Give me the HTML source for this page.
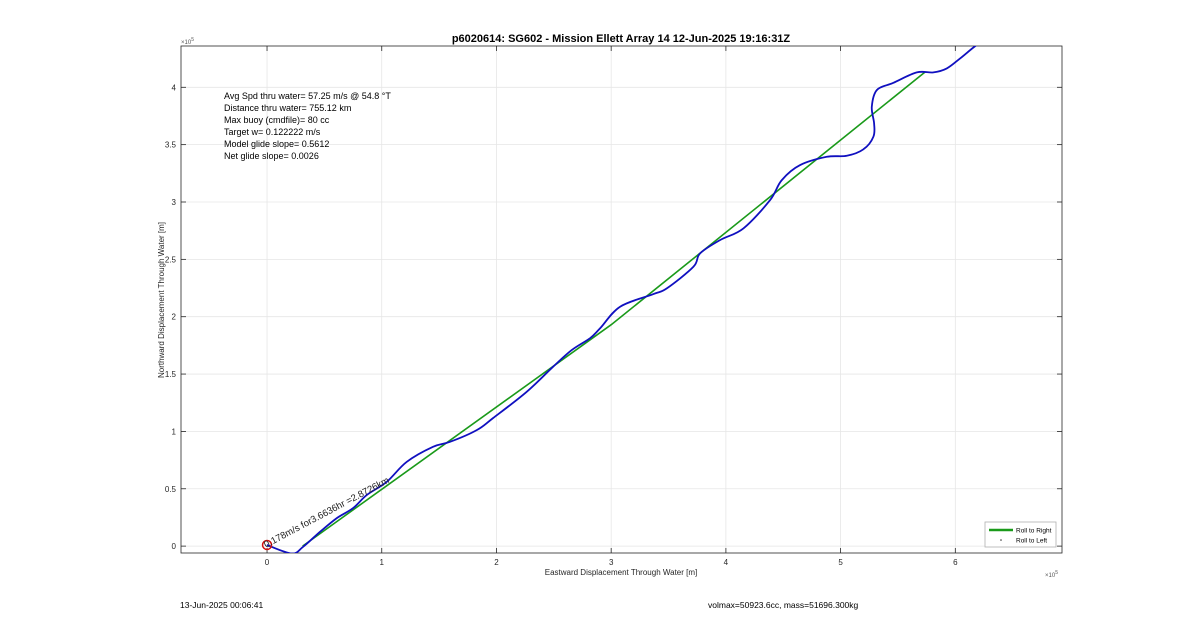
<!DOCTYPE html>
<html><head><meta charset="utf-8"><style>
body{margin:0;background:#fff;font-family:"Liberation Sans",sans-serif;}
svg text{font-family:"Liberation Sans",sans-serif;}
</style></head><body>
<svg id="chart" width="1200" height="622" viewBox="0 0 1200 622">
<rect width="1200" height="622" fill="#fff"/>
<g id="grid"></g>
<rect x="181" y="46" width="881" height="507" fill="none" stroke="#262626" stroke-width="0.8"/>
<g id="ticks"></g>
<clipPath id="clip"><rect x="181" y="46" width="881" height="507"/></clipPath>
<g id="series" clip-path="url(#clip)"></g>
<text x="621" y="42" text-anchor="middle" font-size="11" font-weight="bold" fill="#000">p6020614: SG602 - Mission Ellett Array 14 12-Jun-2025 19:16:31Z</text>
<text x="621" y="575" text-anchor="middle" font-size="8" fill="#262626">Eastward Displacement Through Water [m]</text>
<text x="164" y="300" text-anchor="middle" font-size="8" fill="#262626" transform="rotate(-90 164 300)">Northward Displacement Through Water [m]</text>
<text x="181" y="44" font-size="6" fill="#555">×10<tspan dy="-3" font-size="5">5</tspan></text>
<text x="1045" y="577" font-size="6" fill="#555">×10<tspan dy="-3" font-size="5">5</tspan></text>
<g font-size="9" fill="#000">
<text x="224" y="99">Avg Spd thru water= 57.25 m/s @  54.8 °T</text>
<text x="224" y="111">Distance thru water= 755.12 km</text>
<text x="224" y="123">Max buoy (cmdfile)= 80 cc</text>
<text x="224" y="135">Target w= 0.122222 m/s</text>
<text x="224" y="147">Model glide slope= 0.5612</text>
<text x="224" y="159">Net glide slope= 0.0026</text>
</g>
<g>
<rect x="985" y="522" width="71" height="25" fill="#fff" stroke="#b0b0b0" stroke-width="0.8"/>
<line x1="989" y1="530" x2="1013" y2="530" stroke="#1a9a1a" stroke-width="2.5"/>
<text x="1016" y="532.5" font-size="6.5" fill="#000">Roll to Right</text>
<circle cx="1001" cy="540" r="0.8" fill="#333"/>
<text x="1016" y="542.5" font-size="6.5" fill="#000">Roll to Left</text>
</g>
<text x="180" y="608" font-size="8.5" fill="#000">13-Jun-2025 00:06:41</text>
<text x="708" y="608" font-size="8.5" fill="#000">volmax=50923.6cc, mass=51696.300kg</text>
</svg>
<script>
const xTicks=[0,1,2,3,4,5,6];
const yTicks=[0,0.5,1,1.5,2,2.5,3,3.5,4];
const yTickLabels=["0","0.5","1","1.5","2","2.5","3","3.5","4"];
const trackX=[0,0.215,0.314,0.462,0.608,0.750,0.869,1.044,1.218,1.447,1.595,1.828,1.970,2.264,2.493,2.656,2.816,2.903,3.078,3.368,3.485,3.717,3.775,3.949,4.153,4.385,4.487,4.647,4.880,5.054,5.199,5.286,5.292,5.272,5.316,5.460,5.664,5.809,5.926,6.042,6.173,6.303];
const trackY=[0.01,-0.064,-0.006,0.125,0.244,0.331,0.445,0.561,0.735,0.866,0.909,1.011,1.116,1.345,1.563,1.709,1.813,1.898,2.087,2.197,2.247,2.435,2.552,2.668,2.770,3.017,3.191,3.322,3.394,3.403,3.459,3.569,3.685,3.830,3.976,4.039,4.130,4.130,4.165,4.252,4.359,4.447];
const fitX=[0.31,3.0,5.737];
const fitY=[0,1.93,4.133];
const xMin=-0.75,xMax=6.93,yMin=-0.06,yMax=4.36;
const L=181,R=1062,T=46,B=553;
const sx=v=>L+(v-xMin)/(xMax-xMin)*(R-L);
const sy=v=>B-(v-yMin)/(yMax-yMin)*(B-T);
const NS="http://www.w3.org/2000/svg";
function mk(tag,attrs,parent){const e=document.createElementNS(NS,tag);for(const k in attrs)e.setAttribute(k,attrs[k]);parent.appendChild(e);return e;}
const grid=document.getElementById('grid'),ticks=document.getElementById('ticks'),series=document.getElementById('series');
xTicks.forEach(v=>{const x=sx(v);
 const g=mk('line',{x1:x,x2:x,y1:T,y2:B,stroke:'#e6e6e6','stroke-width':0.8},grid);
 
 
 mk('line',{x1:x,x2:x,y1:B,y2:B-5,stroke:'#262626','stroke-width':0.8},ticks);
 mk('line',{x1:x,x2:x,y1:T,y2:T+5,stroke:'#262626','stroke-width':0.8},ticks);
 const t=mk('text',{x:x,y:B+12,'text-anchor':'middle','font-size':8,fill:'#262626'},ticks);t.textContent=String(v);
 
 
});
yTicks.forEach((v,i)=>{const y=sy(v);
 const g=mk('line',{x1:L,x2:R,y1:y,y2:y,stroke:'#e6e6e6','stroke-width':0.8},grid);
 
 
 mk('line',{x1:L,x2:L+5,y1:y,y2:y,stroke:'#262626','stroke-width':0.8},ticks);
 mk('line',{x1:R,x2:R-5,y1:y,y2:y,stroke:'#262626','stroke-width':0.8},ticks);
 const t=mk('text',{x:L-5,y:y+3,'text-anchor':'end','font-size':8,fill:'#262626'},ticks);t.textContent=yTickLabels[i];
 
 
});
let fd='';fitX.forEach((v,i)=>{fd+=(i?'L':'M')+sx(v).toFixed(1)+','+sy(fitY[i]).toFixed(1);});
const fit=mk('path',{d:fd,fill:'none',stroke:'#1a9a1a','stroke-width':1.6},series);


// smooth Catmull-Rom path through track points
const P=trackX.map((v,i)=>[sx(v),sy(trackY[i])]);
let d='M'+P[0][0].toFixed(1)+','+P[0][1].toFixed(1);
for(let i=0;i<P.length-1;i++){
 const p0=P[Math.max(i-1,0)],p1=P[i],p2=P[i+1],p3=P[Math.min(i+2,P.length-1)];
 const c1=[p1[0]+(p2[0]-p0[0])/6,p1[1]+(p2[1]-p0[1])/6];
 const c2=[p2[0]-(p3[0]-p1[0])/6,p2[1]-(p3[1]-p1[1])/6];
 d+='C'+c1[0].toFixed(1)+','+c1[1].toFixed(1)+' '+c2[0].toFixed(1)+','+c2[1].toFixed(1)+' '+p2[0].toFixed(1)+','+p2[1].toFixed(1);
}
const tr=mk('path',{d:d,fill:'none',stroke:'#1010c0','stroke-width':1.8,'stroke-linejoin':'round'},series);


const c=mk('circle',{cx:sx(0),cy:sy(0.01),r:4.5,fill:'none',stroke:'#d01010','stroke-width':1.5},series);


const x0=sx(0)-1,y0=sy(0.01)+3;
const an=mk('text',{x:x0,y:y0,'font-size':9.5,fill:'#222',transform:`rotate(-28 ${x0} ${y0})`},document.getElementById('chart'));
an.textContent='0.178m/s for3.6636hr =2.8726km';


</script>
</body></html>
